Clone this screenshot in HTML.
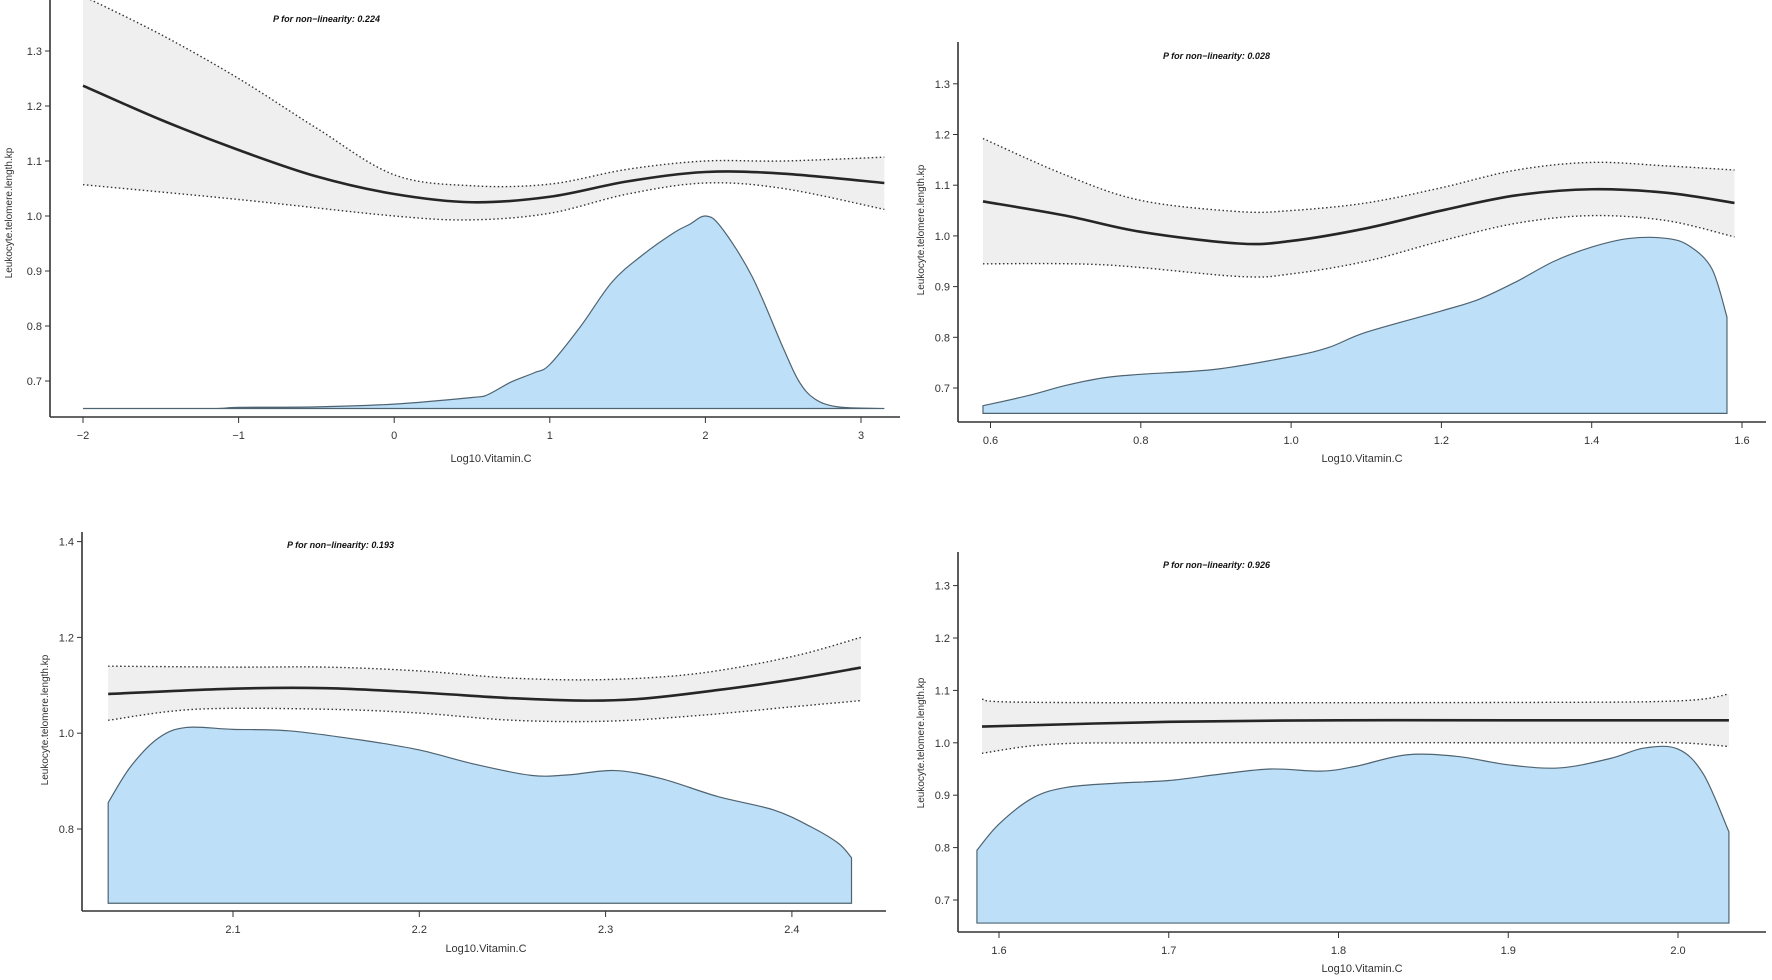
<!DOCTYPE html>
<html><head><meta charset="utf-8">
<style>
html,body{margin:0;padding:0;background:#fff;}
svg{display:block;font-family:"Liberation Sans",sans-serif;}
</style></head>
<body>
<svg id="chart" width="1772" height="980" viewBox="0 0 1772 980" xmlns="http://www.w3.org/2000/svg"></svg>
<script>
// ---- Panel data (x, y) ----
const p1Fit = [[-2,1.237],[-1.5,1.175],[-1,1.12],[-0.5,1.072],[0,1.04],[0.5,1.025],[1,1.035],[1.5,1.063],[2,1.08],[2.5,1.077],[3.15,1.06]];
const p1Upper = [[-2,1.40],[-1.5,1.33],[-1,1.25],[-0.5,1.16],[0,1.075],[0.5,1.055],[1,1.058],[1.5,1.085],[2,1.1],[2.5,1.1],[3.15,1.107]];
const p1Lower = [[-2,1.057],[-1,1.03],[0,1.0],[0.5,0.993],[1,1.005],[1.5,1.04],[2,1.06],[2.5,1.05],[3.15,1.012]];
const p1Density = [[-2,0.65],[-1.2,0.65],[-1,0.652],[-0.5,0.653],[0,0.658],[0.5,0.67],[0.6,0.675],[0.75,0.698],[0.9,0.715],[1,0.73],[1.2,0.8],[1.4,0.88],[1.6,0.93],[1.8,0.97],[1.9,0.985],[2,1.0],[2.1,0.98],[2.3,0.89],[2.5,0.76],[2.6,0.7],[2.7,0.668],[2.85,0.653],[3.15,0.65]];
const p1XTicks = [-2,-1,0,1,2,3];
const p1YTicks = [0.7,0.8,0.9,1.0,1.1,1.2,1.3];
const p1PText = "P for non\u2212linearity: 0.224";

const p2Fit = [[0.59,1.068],[0.7,1.04],[0.8,1.008],[0.93,0.985],[1.0,0.99],[1.1,1.015],[1.2,1.05],[1.3,1.08],[1.4,1.092],[1.5,1.085],[1.59,1.065]];
const p2Upper = [[0.59,1.192],[0.7,1.12],[0.8,1.07],[0.93,1.048],[1.0,1.05],[1.1,1.065],[1.2,1.095],[1.3,1.13],[1.4,1.145],[1.5,1.138],[1.59,1.13]];
const p2Lower = [[0.59,0.945],[0.75,0.943],[0.93,0.92],[1.0,0.925],[1.1,0.95],[1.2,0.99],[1.3,1.025],[1.4,1.04],[1.5,1.03],[1.59,0.998]];
const p2Density = [[0.59,0.665],[0.65,0.685],[0.7,0.705],[0.75,0.72],[0.8,0.727],[0.9,0.737],[1.0,0.762],[1.05,0.78],[1.1,0.81],[1.2,0.852],[1.25,0.875],[1.3,0.91],[1.35,0.95],[1.4,0.978],[1.45,0.995],[1.5,0.995],[1.53,0.98],[1.56,0.935],[1.58,0.84]];
const p2XTicks = [0.6,0.8,1.0,1.2,1.4,1.6];
const p2YTicks = [0.7,0.8,0.9,1.0,1.1,1.2,1.3];
const p2PText = "P for non\u2212linearity: 0.028";

const p3Fit = [[2.033,1.082],[2.1,1.093],[2.15,1.094],[2.2,1.085],[2.25,1.073],[2.29,1.068],[2.32,1.072],[2.36,1.09],[2.4,1.112],[2.437,1.137]];
const p3Upper = [[2.033,1.14],[2.1,1.138],[2.15,1.138],[2.2,1.13],[2.25,1.115],[2.3,1.112],[2.35,1.125],[2.4,1.16],[2.437,1.2]];
const p3Lower = [[2.033,1.027],[2.08,1.05],[2.15,1.05],[2.2,1.042],[2.25,1.027],[2.3,1.025],[2.35,1.037],[2.4,1.055],[2.437,1.068]];
const p3Density = [[2.033,0.855],[2.045,0.93],[2.06,0.99],[2.075,1.012],[2.1,1.008],[2.13,1.005],[2.17,0.985],[2.2,0.965],[2.23,0.935],[2.26,0.912],[2.28,0.913],[2.305,0.922],[2.33,0.905],[2.36,0.868],[2.39,0.84],[2.41,0.805],[2.425,0.77],[2.432,0.74]];
const p3XTicks = [2.1,2.2,2.3,2.4];
const p3YTicks = [0.8,1.0,1.2,1.4];
const p3PText = "P for non\u2212linearity: 0.193";

const p4Fit = [[1.59,1.031],[1.7,1.04],[1.8,1.043],[1.9,1.043],[2.03,1.043]];
const p4Upper = [[1.59,1.083],[1.63,1.077],[1.9,1.077],[2.0,1.08],[2.03,1.093]];
const p4Lower = [[1.59,0.98],[1.63,0.997],[1.7,1.0],[1.95,1.0],[2.0,1.0],[2.03,0.993]];
const p4Density = [[1.587,0.795],[1.6,0.845],[1.62,0.895],[1.64,0.915],[1.67,0.923],[1.7,0.928],[1.73,0.94],[1.76,0.95],[1.79,0.946],[1.81,0.955],[1.84,0.977],[1.87,0.974],[1.9,0.958],[1.93,0.952],[1.96,0.97],[1.98,0.99],[2.0,0.988],[2.015,0.94],[2.03,0.83]];
const p4XTicks = [1.6,1.7,1.8,1.9,2.0];
const p4YTicks = [0.7,0.8,0.9,1.0,1.1,1.2,1.3];
const p4PText = "P for non\u2212linearity: 0.926";

const NS = "http://www.w3.org/2000/svg";
const svg = document.getElementById('chart');
function mk(tag, parent, attrs){ const e=document.createElementNS(NS,tag); for(const k in attrs) e.setAttribute(k,attrs[k]); parent.appendChild(e); return e; }
function smooth(pts){
  let d = "M"+pts[0][0].toFixed(2)+","+pts[0][1].toFixed(2);
  for(let i=0;i<pts.length-1;i++){
    const p0=pts[i-1]||pts[i], p1=pts[i], p2=pts[i+1], p3=pts[i+2]||p2;
    const c1=[p1[0]+(p2[0]-p0[0])/6, p1[1]+(p2[1]-p0[1])/6];
    const c2=[p2[0]-(p3[0]-p1[0])/6, p2[1]-(p3[1]-p1[1])/6];
    d += " C"+c1[0].toFixed(2)+","+c1[1].toFixed(2)+" "+c2[0].toFixed(2)+","+c2[1].toFixed(2)+" "+p2[0].toFixed(2)+","+p2[1].toFixed(2);
  }
  return d;
}
function fmt(v,dec){ return v<0 ? "\u2212"+Math.abs(v).toFixed(dec) : v.toFixed(dec); }

function panel(cfg){
  const g = mk('g', svg, {});
  
  
  const sx = v => cfg.x0 + (v - cfg.xv0) * cfg.xs;
  const sy = v => cfg.y0 - (v - cfg.yv0) * cfg.ys;
  const clipId = cfg.name+'-clip';
  const cp = mk('clipPath', g, {id: clipId});
  mk('rect', cp, {x: cfg.axX, y: cfg.top, width: cfg.axEnd - cfg.axX, height: cfg.axY - cfg.top});
  const pl = mk('g', g, {'clip-path': 'url(#'+clipId+')'});
  // ribbon
  const up = cfg.upper.map(p=>[sx(p[0]),sy(p[1])]);
  const lo = cfg.lower.map(p=>[sx(p[0]),sy(p[1])]).reverse();
  const rd = smooth(up) + " L" + lo[0][0] + "," + lo[0][1] + smooth(lo).replace(/^M[^ C]+/,"") + " Z";
  const rib = mk('path', pl, {d: rd, fill: '#efefef', stroke: 'none'});
  
  
  const du = mk('path', pl, {d: smooth(up), fill:'none', stroke:'#333', 'stroke-width':1.4, 'stroke-dasharray':'1.5 2.5'});
  
  
  const dl = mk('path', pl, {d: smooth(cfg.lower.map(p=>[sx(p[0]),sy(p[1])])), fill:'none', stroke:'#333', 'stroke-width':1.4, 'stroke-dasharray':'1.5 2.5'});
  
  
  // density
  const dp = cfg.density.map(p=>[sx(p[0]),sy(p[1])]);
  const first = cfg.density[0][0], last = cfg.density[cfg.density.length-1][0];
  const dd = "M"+sx(first)+","+sy(cfg.base)+" L"+dp[0][0]+","+dp[0][1]+smooth(dp).replace(/^M[^ C]+/,"")+" L"+sx(last)+","+sy(cfg.base)+" Z";
  const den = mk('path', pl, {d: dd, fill:'#bde0f8', stroke:'#4f6472', 'stroke-width':1.2});
  
  
  // fit
  const fit = mk('path', pl, {d: smooth(cfg.fit.map(p=>[sx(p[0]),sy(p[1])])), fill:'none', stroke:'#262626', 'stroke-width':2.6});
  
  
  // axes
  const ya = mk('line', g, {x1: cfg.axX, y1: cfg.top, x2: cfg.axX, y2: cfg.axY, stroke:'#333', 'stroke-width':1.6});
  
  
  const xa = mk('line', g, {x1: cfg.axX, y1: cfg.axY, x2: cfg.axEnd, y2: cfg.axY, stroke:'#333', 'stroke-width':1.6});
  
  
  cfg.yTicks.forEach(v=>{
    const y = sy(v);
    mk('line', g, {x1: cfg.axX-5, y1:y, x2: cfg.axX, y2:y, stroke:'#333', 'stroke-width':1});
    const t = mk('text', g, {x: cfg.axX-8, y: y+4, 'text-anchor':'end', 'font-size':11, fill:'#333'});
    
    
    t.textContent = v.toFixed(1);
  });
  cfg.xTicks.forEach(v=>{
    const x = sx(v);
    mk('line', g, {x1:x, y1: cfg.axY, x2:x, y2: cfg.axY+6, stroke:'#333', 'stroke-width':1});
    const t = mk('text', g, {x:x, y: cfg.axY+22, 'text-anchor':'middle', 'font-size':11, fill:'#333'});
    
    
    t.textContent = fmt(v, cfg.xdec);
  });
  const xt = mk('text', g, {x: cfg.xtX, y: cfg.xtY, 'text-anchor':'middle', 'font-size':11, fill:'#333'});
  
  
  xt.textContent = "Log10.Vitamin.C";
  const yt = mk('text', g, {x: 0, y: 0, 'text-anchor':'middle', 'font-size':10, fill:'#333', transform:'translate('+cfg.ytX+','+cfg.ytY+') rotate(-90)'});
  
  
  yt.textContent = "Leukocyte.telomere.length.kp";
  const pt = mk('text', g, {x: cfg.pX, y: cfg.pY, 'font-size':9, 'font-weight':'bold', 'font-style':'italic', fill:'#111'});
  
  
  pt.textContent = cfg.pText;
}

panel({name:'panel-top-left', x0:83, xv0:-2, xs:155.6, y0:381, yv0:0.7, ys:550, axX:50, axY:417, axEnd:900, top:0, base:0.65,
  fit:p1Fit, upper:p1Upper, lower:p1Lower, density:p1Density, xTicks:p1XTicks, yTicks:p1YTicks, xdec:0,
  xtX:491, xtY:462, ytX:12, ytY:213, pX:273, pY:22, pText:p1PText});
panel({name:'panel-top-right', x0:990.5, xv0:0.6, xs:751.5, y0:388, yv0:0.7, ys:507, axX:958, axY:422, axEnd:1766, top:42, base:0.65,
  fit:p2Fit, upper:p2Upper, lower:p2Lower, density:p2Density, xTicks:p2XTicks, yTicks:p2YTicks, xdec:1,
  xtX:1362, xtY:462, ytX:924, ytY:230, pX:1163, pY:59, pText:p2PText});
panel({name:'panel-bottom-left', x0:233, xv0:2.1, xs:1863, y0:829, yv0:0.8, ys:479, axX:82, axY:911, axEnd:886, top:532, base:0.645,
  fit:p3Fit, upper:p3Upper, lower:p3Lower, density:p3Density, xTicks:p3XTicks, yTicks:p3YTicks, xdec:1,
  xtX:486, xtY:952, ytX:48, ytY:720, pX:287, pY:548, pText:p3PText});
panel({name:'panel-bottom-right', x0:999, xv0:1.6, xs:1697.5, y0:900, yv0:0.7, ys:524, axX:958, axY:932, axEnd:1766, top:552, base:0.656,
  fit:p4Fit, upper:p4Upper, lower:p4Lower, density:p4Density, xTicks:p4XTicks, yTicks:p4YTicks, xdec:1,
  xtX:1362, xtY:972, ytX:924, ytY:743, pX:1163, pY:568, pText:p4PText});
</script>
</body></html>
